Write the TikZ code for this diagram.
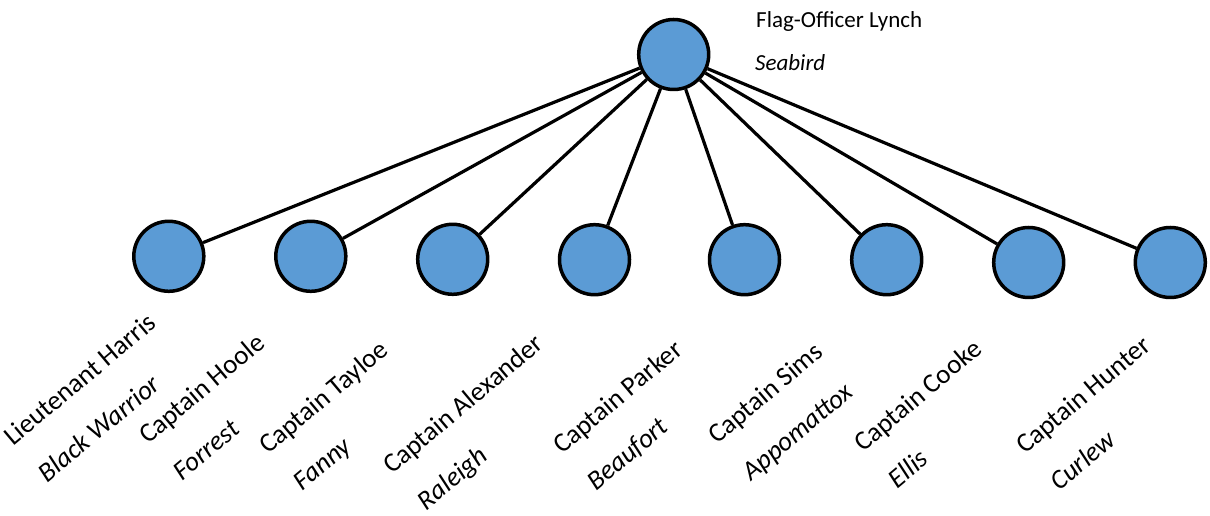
\documentclass[tikz,border=0pt]{standalone}
\usepackage{fontspec}
\setmainfont{Carlito}
\definecolor{offblue}{HTML}{5B9BD5}
\begin{document}
\begin{tikzpicture}[x=1pt,y=1pt,
  officer/.style={circle, draw=black, line width=3.5pt, fill=offblue, minimum size=70pt, inner sep=0pt},
  link/.style={line width=3.2pt, draw=black},
  namelbl/.style={font=\fontsize{27}{32}\selectfont, rotate=40, anchor=base west, inner sep=0pt},
  shiplbl/.style={font=\fontsize{27}{32}\selectfont\itshape, rotate=40, anchor=base west, inner sep=0pt},
  toplbl/.style={font=\fontsize{23}{28}\selectfont, anchor=base west, inner sep=0pt},
  topship/.style={font=\fontsize{23}{28}\selectfont\itshape, anchor=base west, inner sep=0pt}]
\useasboundingbox (0,0) rectangle (1210,516);
% flag officer
\node[officer] (top) at (673.7,461.5) {};
\node[toplbl] (tname) at (756,488.3) {Flag-Officer Lynch};
\node[topship] (tship) at (755,445) {Seabird};
% subordinate ships
\node[officer] (c1) at (168.8,259.7) {};
\node[officer] (c2) at (310.8,259.7) {};
\node[officer] (c3) at (452.7,256.7) {};
\node[officer] (c4) at (594.5,256.3) {};
\node[officer] (c5) at (744.5,256.3) {};
\node[officer] (c6) at (886.7,256.3) {};
\node[officer] (c7) at (1028.7,253.5) {};
\node[officer] (c8) at (1170.3,253.5) {};
% connectors
\foreach \i in {1,...,8} {\draw[link] (top) -- (c\i);}
% labels
\node[namelbl] (n1) at (13,69) {Lieutenant Harris};
\node[namelbl] (n2) at (148,71) {Captain Hoole};
\node[namelbl] (n3) at (268,61) {Captain Tayloe};
\node[namelbl] (n4) at (392,41) {Captain Alexander};
\node[namelbl] (n5) at (562,61) {Captain Parker};
\node[namelbl] (n6) at (717,71) {Captain Sims};
\node[namelbl] (n7) at (863,63) {Captain Cooke};
\node[namelbl] (n8) at (1025,61) {Captain Hunter};
\node[shiplbl] (s1) at ([shift={(34.4,-36.4)}]n1.base west) {Black Warrior};
\node[shiplbl] (s2) at ([shift={(34.4,-36.4)}]n2.base west) {Forrest};
\node[shiplbl] (s3) at ([shift={(34.4,-36.4)}]n3.base west) {Fanny};
\node[shiplbl] (s4) at ([shift={(34.4,-36.4)}]n4.base west) {Raleigh};
\node[shiplbl] (s5) at ([shift={(34.4,-36.4)}]n5.base west) {Beaufort};
\node[shiplbl] (s6) at ([shift={(34.4,-36.4)}]n6.base west) {Appomattox};
\node[shiplbl] (s7) at ([shift={(34.4,-36.4)}]n7.base west) {Ellis};
\node[shiplbl] (s8) at ([shift={(34.4,-36.4)}]n8.base west) {Curlew};
\end{tikzpicture}
\end{document}
